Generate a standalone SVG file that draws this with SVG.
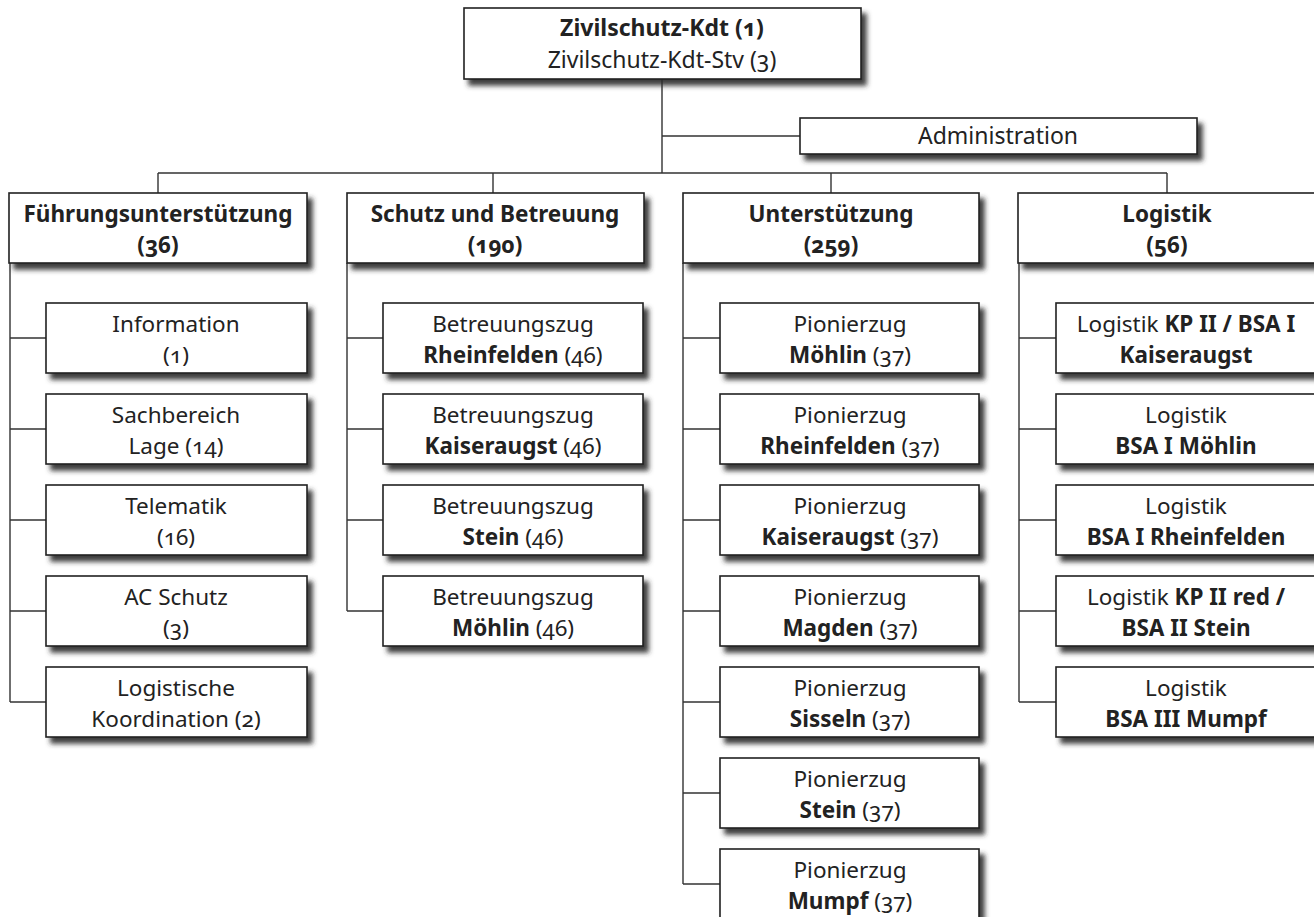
<svg xmlns="http://www.w3.org/2000/svg" width="1314" height="917" viewBox="0 0 1314 917">
<style>
.b{fill:#fff;stroke:#222;stroke-width:1.6;filter:url(#sh)}
.c{fill:none;stroke:#333;stroke-width:1.4}
text{font-family:"Noto Sans","Open Sans",sans-serif;font-size:22.5px;fill:#222;text-anchor:middle;font-variant-numeric:oldstyle-nums}
.bd{font-weight:bold}
.t{font-size:23px}
</style>
<defs>
<filter id="sh" x="-10%" y="-20%" width="130%" height="160%">
<feGaussianBlur in="SourceAlpha" stdDeviation="2.8"/>
<feOffset dx="5" dy="6" result="o"/>
<feFlood flood-color="#2a2a2a" flood-opacity="0.9"/>
<feComposite in2="o" operator="in"/>
<feMerge><feMergeNode/><feMergeNode in="SourceGraphic"/></feMerge>
</filter>
</defs>
<g id="connectors">
<path class="c" d="M662,79V173M662,136H800M158,173H1167M158,173V193M493,173V193M831,173V193M1167,173V193"/>
<path class="c" d="M10,263V702M10,338H46M10,429H46M10,520H46M10,611H46M10,702H46"/>
<path class="c" d="M347,263V611M347,338H383M347,429H383M347,520H383M347,611H383"/>
<path class="c" d="M683,263V884M683,338H720M683,429H720M683,520H720M683,611H720M683,702H720M683,793H720M683,884H720"/>
<path class="c" d="M1019,263V702M1019,338H1056M1019,429H1056M1019,520H1056M1019,611H1056M1019,702H1056"/>
</g>
<g id="kdt"><rect class="b" x="464" y="8" width="397" height="71"/><text x="662" y="36" class="bd t">Zivilschutz-Kdt (1)</text><text x="662" y="68" class="t">Zivilschutz-Kdt-Stv (3)</text></g>
<g id="admin"><rect class="b" x="800" y="118" width="397" height="36"/><text x="998" y="144" class="t">Administration</text></g>
<g id="fu"><rect class="b" x="9" y="193" width="298" height="70"/><text x="158" y="222" class="bd">Führungsunterstützung</text><text x="158" y="253" class="bd">(36)</text></g>
<g id="sb"><rect class="b" x="347" y="193" width="297" height="70"/><text x="495" y="222" class="bd">Schutz und Betreuung</text><text x="495" y="253" class="bd">(190)</text></g>
<g id="ut"><rect class="b" x="683" y="193" width="296" height="70"/><text x="831" y="222" class="bd">Unterstützung</text><text x="831" y="253" class="bd">(259)</text></g>
<g id="lg"><rect class="b" x="1018" y="193" width="298" height="70"/><text x="1167" y="222" class="bd">Logistik</text><text x="1167" y="253" class="bd">(56)</text></g>
<g id="fu1"><rect class="b" x="46" y="303" width="261" height="70"/><text x="176" y="332">Information</text><text x="176" y="363">(1)</text></g>
<g id="fu2"><rect class="b" x="46" y="394" width="261" height="70"/><text x="176" y="423">Sachbereich</text><text x="176" y="454">Lage (14)</text></g>
<g id="fu3"><rect class="b" x="46" y="485" width="261" height="70"/><text x="176" y="514">Telematik</text><text x="176" y="545">(16)</text></g>
<g id="fu4"><rect class="b" x="46" y="576" width="261" height="70"/><text x="176" y="605">AC Schutz</text><text x="176" y="636">(3)</text></g>
<g id="fu5"><rect class="b" x="46" y="667" width="261" height="70"/><text x="176" y="696">Logistische</text><text x="176" y="727">Koordination (2)</text></g>
<g id="sb1"><rect class="b" x="383" y="303" width="260" height="70"/><text x="513" y="332">Betreuungszug</text><text x="513" y="363"><tspan class="bd">Rheinfelden</tspan> (46)</text></g>
<g id="sb2"><rect class="b" x="383" y="394" width="260" height="70"/><text x="513" y="423">Betreuungszug</text><text x="513" y="454"><tspan class="bd">Kaiseraugst</tspan> (46)</text></g>
<g id="sb3"><rect class="b" x="383" y="485" width="260" height="70"/><text x="513" y="514">Betreuungszug</text><text x="513" y="545"><tspan class="bd">Stein</tspan> (46)</text></g>
<g id="sb4"><rect class="b" x="383" y="576" width="260" height="70"/><text x="513" y="605">Betreuungszug</text><text x="513" y="636"><tspan class="bd">Möhlin</tspan> (46)</text></g>
<g id="ut1"><rect class="b" x="720" y="303" width="259" height="70"/><text x="850" y="332">Pionierzug</text><text x="850" y="363"><tspan class="bd">Möhlin</tspan> (37)</text></g>
<g id="ut2"><rect class="b" x="720" y="394" width="259" height="70"/><text x="850" y="423">Pionierzug</text><text x="850" y="454"><tspan class="bd">Rheinfelden</tspan> (37)</text></g>
<g id="ut3"><rect class="b" x="720" y="485" width="259" height="70"/><text x="850" y="514">Pionierzug</text><text x="850" y="545"><tspan class="bd">Kaiseraugst</tspan> (37)</text></g>
<g id="ut4"><rect class="b" x="720" y="576" width="259" height="70"/><text x="850" y="605">Pionierzug</text><text x="850" y="636"><tspan class="bd">Magden</tspan> (37)</text></g>
<g id="ut5"><rect class="b" x="720" y="667" width="259" height="70"/><text x="850" y="696">Pionierzug</text><text x="850" y="727"><tspan class="bd">Sisseln</tspan> (37)</text></g>
<g id="ut6"><rect class="b" x="720" y="758" width="259" height="70"/><text x="850" y="787">Pionierzug</text><text x="850" y="818"><tspan class="bd">Stein</tspan> (37)</text></g>
<g id="ut7"><rect class="b" x="720" y="849" width="259" height="70"/><text x="850" y="878">Pionierzug</text><text x="850" y="909"><tspan class="bd">Mumpf</tspan> (37)</text></g>
<g id="lg1"><rect class="b" x="1056" y="303" width="260" height="70"/><text x="1186" y="332">Logistik <tspan class="bd">KP II / BSA I</tspan></text><text x="1186" y="363" class="bd">Kaiseraugst</text></g>
<g id="lg2"><rect class="b" x="1056" y="394" width="260" height="70"/><text x="1186" y="423">Logistik</text><text x="1186" y="454" class="bd">BSA I Möhlin</text></g>
<g id="lg3"><rect class="b" x="1056" y="485" width="260" height="70"/><text x="1186" y="514">Logistik</text><text x="1186" y="545" class="bd">BSA I Rheinfelden</text></g>
<g id="lg4"><rect class="b" x="1056" y="576" width="260" height="70"/><text x="1186" y="605">Logistik <tspan class="bd">KP II red /</tspan></text><text x="1186" y="636" class="bd">BSA II Stein</text></g>
<g id="lg5"><rect class="b" x="1056" y="667" width="260" height="70"/><text x="1186" y="696">Logistik</text><text x="1186" y="727" class="bd">BSA III Mumpf</text></g>
</svg>
